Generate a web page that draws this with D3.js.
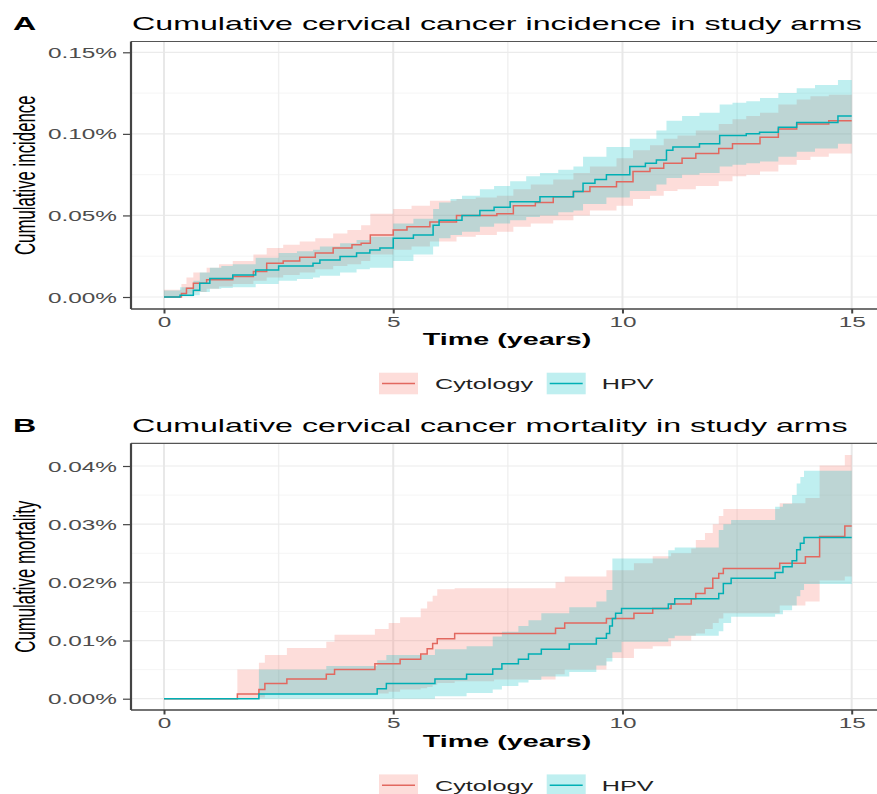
<!DOCTYPE html>
<html>
<head>
<meta charset="UTF-8">
<title>Cumulative cervical cancer in study arms</title>
<script src="https://cdn.jsdelivr.net/npm/d3@7"></script>
<style>
  body { margin: 0; background: #fff; }
  svg { display: block; font-family: "Liberation Sans", Arial, sans-serif; }
</style>
</head>
<body>
<svg width="877" height="794"></svg>
<script>
// ---- data (values in %) ----
var armNames = ["Cytology", "HPV"];
var armColors = ["#F8766D", "#00BFC4"];
var lineColors = ["#E2685F", "#00AFB4"];
var xTicks = [0, 5, 10, 15];
var xMinor = [2.5, 7.5, 12.5];
var incTicks = [0, 0.05, 0.10, 0.15];
var mortTicks = [0, 0.01, 0.02, 0.03, 0.04];

// [time, value]
var cytoIncLine = [[0,0],[0.38,0.0022],[0.49,0.0053],[0.64,0.0084],[0.93,0.0105],[1.5,0.0125],[1.95,0.0156],[2.24,0.0207],[2.6,0.022],[2.96,0.0243],[3.3,0.027],[3.69,0.030],[4.1,0.032],[4.3,0.033],[4.5,0.038],[5.0,0.041],[5.3,0.043],[5.8,0.046],[6.38,0.050],[7.26,0.051],[7.62,0.056],[8.1,0.058],[8.49,0.0615],[8.93,0.0646],[9.29,0.0676],[9.87,0.0707],[10.23,0.077],[10.6,0.079],[10.9,0.082],[11.3,0.085],[11.6,0.088],[12.1,0.091],[12.4,0.094],[13.0,0.098],[13.4,0.103],[13.8,0.106],[14.5,0.108],[15,0.108]];
var hpvIncLine = [[0,0],[0.35,0.0011],[0.64,0.0042],[0.78,0.0084],[1.0,0.0114],[1.5,0.0135],[2.0,0.0166],[2.5,0.019],[3.25,0.0207],[3.4,0.0227],[3.84,0.0248],[4.2,0.027],[4.49,0.0288],[4.71,0.030],[5.0,0.036],[5.44,0.038],[5.87,0.044],[6.0,0.047],[6.5,0.050],[6.89,0.053],[7.2,0.055],[7.55,0.0584],[8.2,0.0615],[8.93,0.0646],[9.14,0.0697],[9.4,0.072],[9.65,0.075],[10.16,0.080],[10.5,0.082],[10.74,0.084],[10.96,0.090],[11.1,0.092],[11.68,0.094],[12.12,0.099],[12.7,0.100],[12.99,0.101],[13.4,0.104],[13.8,0.107],[14.7,0.111],[15,0.111]];
// [time, lower, upper]
var cytoIncBand = [[0,0,0.0045],[0.38,0.001,0.008],[0.49,0.002,0.012],[0.64,0.003,0.015],[0.93,0.005,0.018],[1.2,0.0065,0.020],[1.5,0.008,0.022],[1.95,0.010,0.026],[2.24,0.012,0.030],[2.6,0.0135,0.032],[2.96,0.015,0.034],[3.3,0.017,0.036],[3.69,0.019,0.039],[4.0,0.020,0.041],[4.3,0.022,0.044],[4.5,0.026,0.051],[5.0,0.029,0.054],[5.4,0.031,0.056],[5.8,0.034,0.059],[6.38,0.037,0.060],[6.8,0.038,0.061],[7.26,0.040,0.062],[7.62,0.043,0.066],[8.0,0.045,0.069],[8.49,0.047,0.072],[8.93,0.050,0.076],[9.29,0.053,0.080],[9.87,0.056,0.085],[10.23,0.060,0.090],[10.6,0.062,0.093],[10.9,0.065,0.097],[11.2,0.066,0.099],[11.6,0.068,0.102],[12.1,0.071,0.106],[12.4,0.074,0.109],[12.7,0.075,0.111],[13.0,0.077,0.113],[13.4,0.081,0.118],[13.8,0.084,0.121],[14.1,0.086,0.123],[14.5,0.088,0.124],[15,0.088,0.124]];
var hpvIncBand = [[0,0,0.004],[0.35,0.0005,0.006],[0.64,0.001,0.010],[0.78,0.003,0.015],[1.0,0.005,0.018],[1.25,0.0055,0.019],[1.5,0.006,0.020],[2.0,0.008,0.024],[2.5,0.010,0.027],[2.9,0.011,0.028],[3.25,0.012,0.029],[3.4,0.013,0.031],[3.84,0.015,0.033],[4.2,0.017,0.035],[4.49,0.018,0.037],[5.0,0.022,0.045],[5.44,0.026,0.048],[5.87,0.031,0.054],[6.0,0.036,0.058],[6.25,0.038,0.060],[6.5,0.040,0.062],[6.89,0.043,0.066],[7.2,0.045,0.068],[7.55,0.047,0.071],[7.9,0.049,0.074],[8.2,0.050,0.076],[8.6,0.052,0.078],[8.93,0.053,0.080],[9.14,0.057,0.086],[9.65,0.061,0.092],[10.16,0.065,0.097],[10.74,0.069,0.102],[10.96,0.073,0.108],[11.3,0.075,0.111],[11.68,0.076,0.113],[12.12,0.080,0.118],[12.4,0.081,0.119],[12.7,0.082,0.120],[13.0,0.083,0.122],[13.4,0.086,0.125],[13.8,0.089,0.128],[14.2,0.091,0.130],[14.7,0.094,0.133],[15,0.094,0.133]];

var cytoMortLine = [[0,0],[1.6,0.0008],[2.07,0.0016],[2.2,0.0026],[2.68,0.0034],[3.54,0.0042],[3.72,0.0050],[4.6,0.0060],[5.15,0.0068],[5.6,0.0077],[5.74,0.0086],[5.86,0.0095],[5.96,0.0103],[6.34,0.0112],[8.54,0.0121],[8.74,0.0130],[9.65,0.0138],[10.25,0.0147],[10.66,0.0155],[11.06,0.0163],[11.5,0.0172],[11.6,0.0181],[11.8,0.0190],[11.97,0.0207],[12.1,0.0215],[12.2,0.0224],[13.43,0.0233],[13.99,0.0244],[14.3,0.0279],[14.85,0.0297],[15,0.0297]];
var hpvMortLine = [[0,0],[2.07,0.0008],[4.65,0.0017],[4.85,0.0026],[5.91,0.0034],[6.6,0.0042],[7.17,0.0051],[7.37,0.0060],[7.73,0.0068],[7.95,0.0077],[8.23,0.0085],[8.84,0.0094],[9.43,0.0104],[9.65,0.0112],[9.72,0.0125],[9.78,0.0138],[9.85,0.0147],[9.98,0.0155],[11.0,0.0163],[11.14,0.0172],[12.1,0.0181],[12.2,0.0198],[12.37,0.0207],[13.33,0.0217],[13.5,0.0227],[13.7,0.0237],[13.8,0.0256],[13.88,0.0267],[13.96,0.0277],[15,0.0277]];
var cytoMortBand = [[0,0,0],[1.6,0,0.0050],[2.07,0.0002,0.0062],[2.2,0.0009,0.0075],[2.68,0.0009,0.0087],[3.54,0.0009,0.0098],[3.72,0.0009,0.0110],[4.6,0.0009,0.0120],[4.9,0.0012,0.0130],[5.15,0.0016,0.0140],[5.6,0.0018,0.0155],[5.74,0.0020,0.0167],[5.86,0.0024,0.0177],[5.96,0.0027,0.0188],[6.34,0.0030,0.0190],[7.2,0.0033,0.0190],[8.54,0.0042,0.0200],[8.74,0.0050,0.0210],[9.65,0.0070,0.0221],[10.25,0.0086,0.0233],[10.66,0.0090,0.0245],[11.06,0.0100,0.0250],[11.5,0.0108,0.0258],[11.6,0.0112,0.0273],[11.8,0.0120,0.0285],[11.97,0.0130,0.0300],[12.1,0.0138,0.0314],[12.2,0.0147,0.0326],[13.43,0.0160,0.0336],[13.99,0.0167,0.0345],[14.3,0.0203,0.0401],[14.85,0.0210,0.0419],[15,0.0210,0.0419]];
var hpvMortBand = [[0,0,0],[2.07,0,0.0050],[3.54,0,0.0056],[4.65,0,0.0066],[4.85,0,0.0075],[5.91,0.0004,0.0085],[6.6,0.0010,0.0090],[7.17,0.0016,0.0107],[7.37,0.0022,0.0115],[7.73,0.0028,0.0125],[7.95,0.0032,0.0135],[8.23,0.0038,0.0147],[8.84,0.0046,0.0157],[9.43,0.0057,0.0167],[9.65,0.0064,0.0187],[9.78,0.0080,0.0241],[9.98,0.0098,0.0241],[11.0,0.0104,0.0255],[11.14,0.0108,0.0260],[12.1,0.0116,0.0290],[12.2,0.0130,0.0300],[12.37,0.0141,0.0307],[13.33,0.0145,0.0330],[13.5,0.0152,0.0335],[13.7,0.0160,0.0350],[13.8,0.0176,0.0370],[13.88,0.0187,0.0381],[13.96,0.0197,0.0392],[15,0.0197,0.0392]];

// ---- layout ----
var SX = 1.74;              // the picture is stretched sideways
var panelLeft = 131, panelRight = 890;
var svg = d3.select("svg");
svg.append("rect").attr("width", 877).attr("height", 794).attr("fill", "#fff");

var x = d3.scaleLinear().domain([0, 15]).range([164, 851.7]);

var panels = [
  { tag: "A", title: "Cumulative cervical cancer incidence in study arms", ylab: "Cumulative incidence",
    ticks: incTicks, yRange: [297, 52.3], top: 41.5, bottom: 309, titleY: 30, xTitleY: 345, legTop: 372.7,
    lines: [cytoIncLine, hpvIncLine], bands: [cytoIncBand, hpvIncBand] },
  { tag: "B", title: "Cumulative cervical cancer mortality in study arms", ylab: "Cumulative mortality",
    ticks: mortTicks, yRange: [698.7, 466], top: 443.3, bottom: 710, titleY: 432, xTitleY: 746.7, legTop: 774.4,
    lines: [cytoMortLine, hpvMortLine], bands: [cytoMortBand, hpvMortBand] }
];

function addText(parent, px, py, str, size, anchor, weight, color, rotate) {
  return parent.append("text")
    .attr("transform", "translate(" + px + "," + py + ") scale(" + SX + ",1)" + (rotate ? " rotate(-90)" : ""))
    .attr("text-anchor", anchor)
    .attr("font-size", size)
    .attr("font-weight", weight || "normal")
    .attr("fill", color || "#000")
    .text(str);
}

panels.forEach(function(p) {
  var ticks = p.ticks;
  var y = d3.scaleLinear().domain([0, ticks[ticks.length - 1]]).range(p.yRange);
  var g = svg.append("g");

  svg.append("clipPath").attr("id", "clip" + p.tag)
    .append("rect")
    .attr("x", panelLeft).attr("y", p.top)
    .attr("width", panelRight - panelLeft).attr("height", p.bottom - p.top);

  var plot = g.append("g").attr("clip-path", "url(#clip" + p.tag + ")");

  // grid
  var minorY = ticks.slice(0, -1).map(function(d, i) { return (d + ticks[i + 1]) / 2; });
  plot.selectAll(".gy2").data(minorY).enter().append("line")
    .attr("x1", panelLeft).attr("x2", panelRight)
    .attr("y1", function(d) { return y(d); }).attr("y2", function(d) { return y(d); })
    .attr("stroke", "#F2F2F2").attr("stroke-width", 0.8);
  plot.selectAll(".gx2").data(xMinor).enter().append("line")
    .attr("x1", function(d) { return x(d); }).attr("x2", function(d) { return x(d); })
    .attr("y1", p.top).attr("y2", p.bottom)
    .attr("stroke", "#F0F0F0").attr("stroke-width", 1.4);
  plot.selectAll(".gy").data(ticks).enter().append("line")
    .attr("x1", panelLeft).attr("x2", panelRight)
    .attr("y1", function(d) { return y(d); }).attr("y2", function(d) { return y(d); })
    .attr("stroke", "#EBEBEB").attr("stroke-width", 1.2);
  plot.selectAll(".gx").data(xTicks).enter().append("line")
    .attr("x1", function(d) { return x(d); }).attr("x2", function(d) { return x(d); })
    .attr("y1", p.top).attr("y2", p.bottom)
    .attr("stroke", "#E8E8E8").attr("stroke-width", 2);

  // ribbons then step lines
  var area = d3.area().curve(d3.curveStepAfter)
    .x(function(d) { return x(d[0]); })
    .y0(function(d) { return y(d[1]); })
    .y1(function(d) { return y(d[2]); });
  var line = d3.line().curve(d3.curveStepAfter)
    .x(function(d) { return x(d[0]); })
    .y(function(d) { return y(d[1]); });

  p.bands.forEach(function(b, i) {
    plot.append("path").attr("d", area(b))
      .attr("fill", armColors[i]).attr("fill-opacity", 0.25);
  });
  p.lines.forEach(function(l, i) {
    plot.append("path").attr("d", line(l))
      .attr("fill", "none").attr("stroke", lineColors[i]).attr("stroke-width", 1.5);
  });

  // panel border
  g.append("line").attr("x1", panelLeft).attr("x2", panelRight).attr("y1", p.top).attr("y2", p.top)
    .attr("stroke", "#555").attr("stroke-width", 1.2);
  g.append("line").attr("x1", panelLeft).attr("x2", panelRight).attr("y1", p.bottom).attr("y2", p.bottom)
    .attr("stroke", "#444").attr("stroke-width", 1.4);
  g.append("line").attr("x1", panelLeft).attr("x2", panelLeft).attr("y1", p.top).attr("y2", p.bottom)
    .attr("stroke", "#444").attr("stroke-width", 2.2);

  // axes
  var yAxis = g.append("g").attr("transform", "translate(" + panelLeft + ",0)")
    .call(d3.axisLeft(y).tickValues(ticks).tickSize(8)
      .tickFormat(function(d) { return d3.format(".2f")(d) + "%"; }));
  yAxis.select(".domain").remove();
  yAxis.selectAll(".tick line").attr("stroke", "#444").attr("stroke-width", 1.2);
  yAxis.selectAll(".tick text")
    .attr("x", -14 / SX).attr("dy", "0.36em")
    .attr("transform", "scale(" + SX + ",1)")
    .attr("font-size", 14).attr("fill", "#4D4D4D")
    .attr("font-family", "Liberation Sans, Arial, sans-serif");

  var xAxis = g.append("g").attr("transform", "translate(0," + p.bottom + ")")
    .call(d3.axisBottom(x).tickValues(xTicks).tickSize(4.5));
  xAxis.select(".domain").remove();
  xAxis.selectAll(".tick line").attr("stroke", "#444").attr("stroke-width", 2);
  xAxis.selectAll(".tick text")
    .attr("y", 18).attr("dy", 0)
    .attr("transform", "scale(" + SX + ",1)")
    .attr("font-size", 14).attr("fill", "#4D4D4D")
    .attr("font-family", "Liberation Sans, Arial, sans-serif");

  // titles
  addText(g, 13, p.titleY, p.tag, 18.5, "start", "bold");
  addText(g, 132, p.titleY, p.title, 18.5, "start");
  addText(g, 507, p.xTitleY, "Time (years)", 16.5, "middle", "bold");
  addText(g, 34.5, (p.top + p.bottom) / 2, p.ylab, 16.8, "middle", "normal", "#000", true);

  // legend
  var legX = [379, 546.7], legTextX = [435, 601.7];
  armNames.forEach(function(name, i) {
    g.append("rect").attr("x", legX[i]).attr("y", p.legTop)
      .attr("width", 39).attr("height", 21.6)
      .attr("fill", armColors[i]).attr("fill-opacity", 0.25);
    g.append("line").attr("x1", legX[i] + 3).attr("x2", legX[i] + 36)
      .attr("y1", p.legTop + 10.8).attr("y2", p.legTop + 10.8)
      .attr("stroke", lineColors[i]).attr("stroke-width", 1.5);
    addText(g, legTextX[i], p.legTop + 16.5, name, 14.5, "start", "normal", "#222");
  });
});
</script>
</body>
</html>
